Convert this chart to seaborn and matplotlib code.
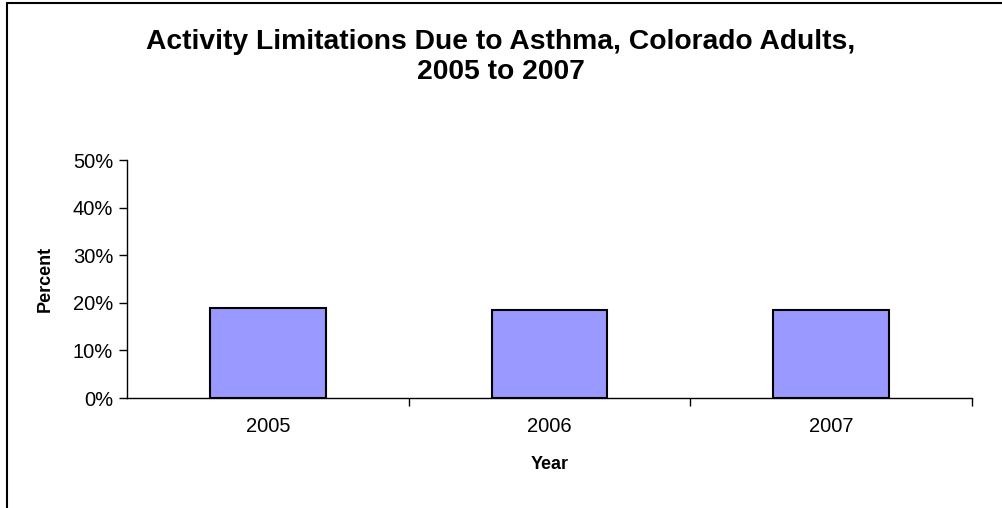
import matplotlib
matplotlib.use('Agg')
import matplotlib.pyplot as plt
from matplotlib.lines import Line2D
from matplotlib.ticker import FixedLocator, PercentFormatter
import pandas as pd
import seaborn as sns

# data
years = ['2005', '2006', '2007']
percent = [18.9, 18.4, 18.5]

sns.set_style('white')
plt.rcParams['font.family'] = ['Liberation Sans', 'DejaVu Sans']
plt.rcParams['text.color'] = 'black'
plt.rcParams['axes.labelcolor'] = 'black'
plt.rcParams['xtick.color'] = 'black'
plt.rcParams['ytick.color'] = 'black'

df = pd.DataFrame({'Year': years, 'Percent': percent})

fig = plt.figure(figsize=(10.02, 5.08), dpi=100)
ax = fig.add_axes([127 / 1002, 1 - 398 / 508, (972 - 127) / 1002, (398 - 160) / 508])

sns.barplot(data=df, x='Year', y='Percent', color='#9999FF', saturation=1,
            edgecolor='black', linewidth=1.5, width=0.41, ax=ax)

ax.set_xlim(-0.5, 2.5)
ax.set_ylim(0, 50)
ax.set_yticks([0, 10, 20, 30, 40, 50])
ax.yaxis.set_major_formatter(PercentFormatter(decimals=0))
ax.xaxis.set_minor_locator(FixedLocator([0.5, 1.5, 2.5]))
ax.tick_params(axis='x', which='major', length=0, pad=14, labelsize=14.5)
ax.tick_params(axis='x', which='minor', length=6, width=1, color='black', direction='out', bottom=True)
ax.tick_params(axis='y', length=6, width=1, color='black', direction='out', left=True, labelsize=14.5, pad=4)

for side in ['top', 'right']:
    ax.spines[side].set_visible(False)
for side in ['left', 'bottom']:
    ax.spines[side].set_color('black')
    ax.spines[side].set_linewidth(1)

ax.set_xlabel('Year', fontsize=13, fontweight='bold', labelpad=14)
ax.set_ylabel('Percent', fontsize=13, fontweight='bold', labelpad=14)

fig.text(0.5, 1 - 57 / 508, 'Activity Limitations Due to Asthma, Colorado Adults,\n2005 to 2007',
         ha='center', va='center', fontsize=20.3, fontweight='bold', linespacing=1.22)

# chart-area frame (left and top edges visible in the reference)
fig.add_artist(Line2D([7 / 1002, 1], [1 - 3 / 508, 1 - 3 / 508], color='black', lw=1.5,
                      transform=fig.transFigure))
fig.add_artist(Line2D([7 / 1002, 7 / 1002], [0, 1 - 3 / 508], color='black', lw=1.5,
                      transform=fig.transFigure))

fig.savefig('out.png', dpi=100)
